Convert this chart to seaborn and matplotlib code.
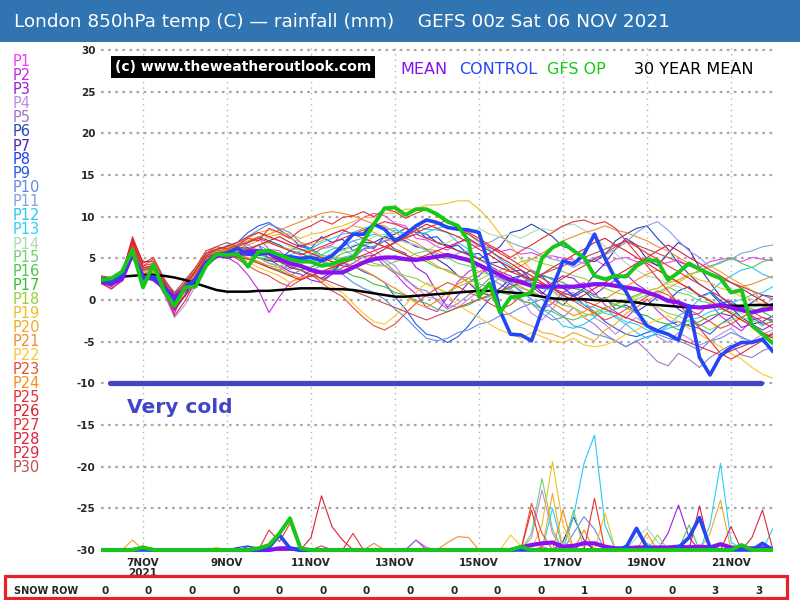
import numpy as np
import pandas as pd
import matplotlib
matplotlib.use('Agg')
import matplotlib.pyplot as plt
import seaborn as sns
from matplotlib.patches import Rectangle

# forecast steps: 06 NOV 00z .. 22 NOV 00z, every 6 hours
hours = list(range(0, 385, 6))

# ensemble members, 850hPa temperature (C)
t_p1 = [2.0, 1.6, 2.9, 6.6, 3.4, 4.1, 1.2, -1.3, 0.6, 3.1, 5.2, 5.9, 5.3,
        5.8, 6.9, 7.4, 6.1, 5.9, 4.8, 4.5, 5.4, 6.2, 6.6, 8.1, 9.0, 9.9,
        10.4, 10.1, 9.2, 8.9, 7.4, 7.2, 6.4, 6.0, 6.9, 7.3, 6.4, 6.3, 5.8,
        6.1, 5.5, 5.7, 5.2, 5.3, 5.0, 4.8, 4.4, 4.9, 4.1, 4.9, 5.1, 4.6,
        4.6, 4.2, 4.5, 4.8, 4.1, 3.9, 4.6, 4.9, 5.0, 4.6, 5.1, 4.9, 4.7]
t_p2 = [2.2, 1.4, 2.3, 5.7, 2.5, 3.1, 0.8, -1.6, 1.3, 3.5, 5.3, 5.9, 5.1,
        4.4, 3.0, 1.2, -1.5, 0.4, 2.1, 2.7, 3.6, 2.4, 3.1, 3.9, 4.4, 5.2,
        5.4, 4.1, 3.2, 1.8, 0.7, -0.9, -1.4, 0.3, 2.2, 3.4, 4.1, 3.0, 2.7,
        1.9, 1.1, 0.1, -1.1, -0.4, 0.9, 1.6, 2.1, 0.9, -0.6, -1.4, -2.2, -0.9,
        0.1, -1.3, -2.4, -3.1, -1.9, -1.6, -0.4, -1.9, -2.9, -3.7, -2.4, -2.1, -2.4]
t_p3 = [2.5, 2.3, 2.7, 6.1, 3.1, 3.4, 1.9, 0.3, 0.9, 2.4, 4.9, 5.4, 6.1,
        5.1, 5.9, 6.6, 4.9, 4.1, 3.4, 3.1, 2.4, 2.1, 3.1, 4.6, 5.4, 6.1,
        6.4, 7.1, 6.1, 5.6, 3.9, 3.1, 0.9, -0.9, 0.6, 2.1, 2.9, 4.1, 3.4,
        2.9, 1.9, 1.6, 0.7, 2.1, 2.9, 2.6, 1.4, 0.6, 1.6, 2.4, 3.1, 1.9,
        1.1, 0.4, 0.1, -1.1, -1.9, -3.1, -2.4, -1.6, -1.9, -3.3, -2.9, -3.6, -2.9]
t_p4 = [2.0, 1.5, 2.2, 5.4, 2.4, 2.9, 0.7, -2.1, -0.6, 1.7, 4.4, 5.1, 5.3,
        5.6, 4.9, 4.6, 3.9, 3.6, 4.3, 4.9, 4.4, 4.1, 5.6, 6.4, 7.1, 6.4,
        6.1, 4.9, 4.1, 2.4, 1.6, 0.4, 0.1, -0.6, -0.9, 0.1, 1.1, 1.9, 2.6,
        1.4, 0.1, -1.6, -2.4, -1.1, 0.6, 0.9, 0.1, -2.1, -2.9, -4.1, -2.9, -2.1,
        -3.1, -4.4, -5.1, -3.9, -4.6, -5.4, -4.9, -4.1, -3.4, -4.6, -4.9, -4.1, -3.6]
t_p5 = [2.4, 2.0, 2.6, 6.0, 3.2, 3.0, 1.5, -0.5, 0.4, 2.1, 3.9, 5.1, 5.4,
        6.1, 5.4, 5.1, 4.4, 4.1, 3.7, 4.3, 3.4, 3.1, 3.7, 4.3, 4.9, 6.1,
        5.4, 4.6, 3.4, 2.6, 1.4, 1.1, -0.1, -1.1, -0.4, 0.6, 1.4, 2.6, 1.9,
        1.1, -0.1, -0.4, -1.6, -2.4, -2.1, -0.9, -2.1, -2.9, -4.1, -4.9, -5.6, -4.9,
        -6.1, -7.4, -7.9, -6.4, -7.1, -8.1, -6.9, -6.1, -5.4, -6.6, -6.9, -6.1, -5.6]
t_p6 = [2.6, 2.3, 3.0, 6.8, 3.5, 4.2, 2.2, 0.5, 1.8, 3.2, 5.0, 5.8, 6.2,
        6.6, 6.9, 7.6, 7.1, 6.6, 5.9, 5.6, 5.1, 5.1, 5.4, 6.1, 6.4, 6.9,
        6.9, 7.6, 7.9, 8.6, 8.1, 7.9, 6.9, 6.6, 5.9, 5.6, 4.9, 5.6, 6.4,
        8.1, 8.4, 9.1, 8.4, 7.6, 6.4, 6.1, 4.9, 4.6, 5.4, 7.1, 7.9, 8.6,
        8.9, 7.4, 6.1, 4.4, 3.1, 1.9, 1.1, -0.1, -0.9, -2.1, -2.9, -2.6, -1.9]
t_p7 = [2.2, 1.9, 2.5, 6.2, 2.8, 3.2, 1.0, -1.2, 0.5, 2.5, 4.8, 5.3, 5.0,
        5.3, 5.4, 5.1, 4.7, 4.6, 3.9, 3.6, 2.9, 2.6, 3.4, 4.6, 5.4, 6.1,
        6.4, 7.1, 7.4, 7.1, 6.4, 6.1, 4.9, 4.1, 2.9, 2.1, 0.9, 0.6, 1.4,
        2.6, 2.9, 2.1, 0.9, 0.1, -0.6, 0.6, 1.4, 3.1, 4.4, 6.1, 7.4, 6.6,
        4.9, 4.1, 5.6, 6.9, 6.1, 3.9, 2.1, 0.4, -0.6, -0.9, -1.6, -0.9, -0.4]
t_p8 = [2.0, 1.7, 2.7, 6.4, 3.0, 3.6, 1.6, -0.8, 1.0, 2.8, 4.6, 5.4, 5.8,
        6.1, 6.3, 5.4, 5.6, 4.9, 5.9, 6.6, 6.2, 7.6, 6.9, 7.3, 5.9, 6.6,
        6.2, 7.6, 7.1, 8.1, 8.6, 7.4, 7.6, 6.3, 6.6, 5.4, 5.6, 4.4, 4.6,
        3.4, 3.6, 2.4, 2.9, 1.4, 1.6, 0.4, 1.1, -0.1, 0.3, -1.1, -0.6, -1.4,
        -0.6, 0.4, -0.1, 1.1, 1.6, 0.4, 0.9, -0.4, -0.1, -1.1, -0.3, 0.6, 0.4]
t_p9 = [2.8, 2.5, 3.2, 7.1, 3.8, 4.0, 2.5, 0.8, 2.0, 3.5, 5.2, 6.0, 6.5,
        6.9, 8.1, 8.9, 9.3, 8.4, 7.6, 6.4, 6.1, 5.4, 5.1, 4.4, 4.1, 3.4,
        2.9, 2.1, 0.4, -1.1, -2.9, -4.1, -4.4, -5.1, -4.4, -3.1, -1.4, 0.1, 0.9,
        2.1, 2.9, 3.6, 2.9, 2.6, 1.4, 0.6, -0.6, -1.4, -2.6, -3.4, -4.1, -4.4,
        -3.9, -3.6, -2.9, -2.6, -3.1, -3.4, -4.1, -2.9, -2.1, -0.9, -2.1, -2.9, -2.6]
t_p10 = [2.3, 2.1, 2.8, 6.3, 3.2, 3.4, 1.4, -0.3, 1.2, 2.6, 4.4, 5.2, 5.6,
         6.4, 7.6, 8.4, 9.1, 8.6, 8.1, 6.9, 6.1, 4.9, 4.1, 3.1, 2.1, 1.4,
         0.9, 0.1, -1.1, -2.1, -3.4, -4.6, -4.9, -4.6, -3.9, -3.6, -2.9, -2.6, -1.9,
         -1.6, -0.9, -0.4, 0.1, -1.1, -1.9, -3.1, -3.4, -4.1, -4.4, -4.9, -5.6, -4.9,
         -4.4, -4.1, -4.6, -4.9, -5.4, -6.1, -4.9, -4.6, -3.9, -4.4, -5.1, -4.6, -3.9]
t_p11 = [2.5, 2.2, 2.9, 6.6, 3.4, 3.7, 1.7, 0.0, 1.4, 3.0, 5.0, 5.6, 5.9,
         6.1, 6.6, 5.9, 5.6, 4.9, 4.6, 3.9, 3.6, 4.1, 4.4, 5.1, 5.4, 6.1,
         6.4, 7.1, 7.4, 6.9, 6.6, 5.9, 5.6, 4.9, 5.6, 5.9, 6.6, 6.9, 7.6,
         6.9, 6.4, 6.1, 5.4, 4.9, 4.6, 3.9, 4.6, 5.1, 5.4, 6.1, 6.9, 8.1,
         8.9, 9.4, 8.4, 7.1, 5.9, 5.1, 3.9, 4.6, 4.9, 5.6, 5.9, 6.4, 6.6]
t_p12 = [2.2, 2.0, 2.5, 6.0, 3.0, 3.3, 1.3, -0.5, 1.5, 3.0, 4.8, 5.3, 5.6,
         5.9, 6.1, 6.6, 5.9, 5.6, 4.9, 4.6, 5.1, 5.4, 6.1, 6.4, 7.1, 7.4,
         7.9, 7.5, 8.4, 8.0, 8.9, 8.5, 8.4, 8.1, 6.9, 6.1, 4.9, 4.1, 2.9,
         2.1, 0.9, 0.1, -1.1, -1.9, -3.1, -3.4, -2.9, -2.1, -0.9, -2.1, -2.9, -3.9,
         -4.6, -3.9, -3.1, -1.9, -1.1, 0.1, 0.9, 2.1, 2.9, 3.6, 3.9, 3.1, 2.6]
t_p13 = [2.6, 2.4, 3.0, 6.7, 3.6, 3.9, 2.0, 0.3, 1.6, 3.1, 5.0, 5.7, 6.0,
         6.4, 5.9, 5.4, 5.1, 4.9, 5.4, 5.9, 6.1, 6.9, 7.4, 7.9, 8.1, 8.6,
         8.9, 8.4, 8.6, 7.6, 7.9, 8.1, 8.6, 8.9, 8.4, 7.9, 6.9, 6.1, 4.9,
         4.1, 2.9, 2.1, 1.4, 1.1, 0.4, 0.1, -0.6, -0.9, -1.6, -1.9, -2.6, -2.9,
         -3.6, -3.9, -3.4, -3.1, -2.4, -2.1, -1.4, -1.1, -0.4, 0.1, 0.6, 0.9, 1.6]
t_p14 = [2.1, 1.8, 2.4, 5.8, 2.7, 3.1, 1.1, -0.9, 0.9, 2.7, 4.7, 5.4, 5.9,
         6.6, 7.4, 8.1, 7.4, 7.1, 6.4, 6.1, 5.4, 5.1, 5.6, 5.9, 6.6, 6.9,
         7.6, 7.9, 7.6, 6.9, 6.6, 5.9, 6.6, 6.9, 7.6, 7.9, 8.6, 7.9, 7.6,
         7.9, 7.4, 8.1, 8.6, 8.3, 8.9, 9.1, 8.4, 7.6, 6.4, 5.6, 4.4, 3.6,
         2.9, 2.6, 1.9, 1.6, 0.9, 0.6, 0.1, -0.6, -0.9, -1.6, -0.9, -0.6, 0.1]
t_p15 = [2.4, 2.1, 2.7, 6.1, 3.1, 3.5, 1.5, -0.6, 1.1, 2.9, 4.9, 5.5, 5.8,
         6.1, 5.4, 5.1, 4.4, 4.1, 4.4, 5.1, 5.4, 6.1, 6.4, 6.1, 5.4, 5.1,
         4.4, 4.1, 4.6, 4.9, 5.6, 5.9, 5.4, 5.1, 4.4, 4.1, 3.4, 3.1, 2.4,
         2.1, 1.4, 1.1, 0.4, 0.1, -0.6, -0.9, -1.6, -1.9, -1.4, -1.1, -0.4, 0.1,
         0.6, 0.9, 1.6, 0.9, 0.6, -0.1, -0.4, -1.1, -1.4, -2.1, -2.4, -3.1, -2.4]
t_p16 = [2.7, 2.4, 3.1, 6.5, 3.4, 3.8, 1.9, 0.2, 1.5, 3.1, 5.1, 5.6, 6.0,
         5.9, 5.4, 5.1, 4.9, 4.9, 4.4, 4.1, 3.9, 4.6, 4.9, 5.6, 5.9, 6.6,
         6.9, 6.4, 6.1, 5.4, 4.9, 4.6, 3.9, 3.6, 2.9, 2.6, 1.9, 1.6, 0.9,
         0.6, -0.1, -0.4, -1.1, -1.4, -2.1, -2.4, -1.9, -1.6, -0.9, -0.6, 0.1, 0.6,
         1.1, 1.4, 2.1, 2.4, 3.1, 3.4, 4.1, 4.4, 5.1, 4.4, 3.9, 4.6, 4.9]
t_p17 = [2.3, 2.0, 2.6, 5.9, 2.9, 3.3, 1.3, -0.7, 1.0, 2.7, 4.6, 5.2, 5.4,
         5.6, 4.9, 4.6, 3.9, 3.6, 2.9, 3.6, 3.9, 4.6, 3.9, 3.6, 2.9, 2.6,
         1.9, 1.6, 0.9, 0.6, -0.1, -0.4, -1.1, -1.4, -0.9, -0.6, 0.1, 0.4, 1.1,
         1.4, 2.1, 2.4, 3.1, 2.4, 2.1, 1.4, 1.1, 0.4, 0.1, -0.6, -0.9, -1.6,
         -1.9, -2.6, -2.9, -3.6, -2.9, -2.6, -1.9, -1.6, -0.9, -0.6, -1.1, -1.4, -2.1]
t_p18 = [2.5, 2.2, 2.8, 6.3, 3.2, 3.6, 1.6, -0.3, 1.3, 3.0, 4.9, 5.5, 5.7,
         5.9, 6.1, 6.6, 6.9, 6.4, 6.1, 6.1, 5.9, 5.4, 5.1, 5.1, 4.9, 4.4,
         4.1, 4.1, 3.4, 2.9, 2.6, 1.9, 1.4, 0.9, 1.6, 2.1, 2.4, 3.1, 3.6,
         3.9, 4.6, 4.9, 4.4, 4.1, 3.4, 2.9, 2.6, 1.9, 1.4, 0.9, 0.6, -0.1,
         -0.6, -0.9, -1.6, -1.9, -2.6, -2.9, -3.6, -2.9, -2.4, -2.1, -1.4, -0.9, -0.6]
t_p19 = [2.2, 1.9, 2.5, 6.4, 3.0, 3.4, 1.4, -0.4, 1.2, 2.9, 4.8, 5.6, 6.2,
         6.9, 7.4, 8.1, 8.4, 8.1, 7.9, 7.4, 7.9, 8.1, 8.6, 8.9, 9.4, 9.9,
         9.9, 10.4, 10.4, 10.9, 10.9, 11.4, 11.4, 11.6, 11.9, 11.9, 10.9, 9.6, 7.9,
         6.6, 4.9, 3.6, 1.9, 1.1, -0.1, -0.9, -2.1, -1.4, -1.1, -0.4, 0.1, 0.4,
         1.1, 1.4, 2.1, 2.4, 3.1, 2.4, 2.1, 1.4, 1.1, 0.4, 0.1, -0.6, -0.9]
t_p20 = [2.3, 2.0, 2.6, 6.9, 3.3, 3.9, 1.7, -0.2, 1.4, 3.2, 5.0, 5.8, 6.4,
         5.9, 6.6, 7.1, 7.6, 7.9, 7.4, 6.9, 6.6, 7.1, 7.9, 8.4, 8.9, 8.6,
         8.1, 7.4, 6.9, 6.1, 5.4, 4.9, 4.1, 3.4, 2.9, 2.1, 1.4, 0.6, -0.9,
         -1.9, -2.6, -3.1, -3.9, -4.1, -4.6, -3.9, -4.4, -4.9, -3.6, -2.9, -1.6, -0.9,
         -0.1, 0.6, 1.4, 2.1, 2.9, 3.6, 4.1, 3.4, 2.6, 1.9, 1.1, -0.1, -0.9]
t_p21 = [2.4, 2.1, 2.7, 6.3, 3.1, 3.6, 1.6, -0.4, 1.3, 2.9, 4.9, 5.6, 6.1,
         6.6, 7.1, 7.6, 7.9, 8.4, 8.9, 9.4, 9.9, 10.4, 10.6, 10.4, 10.1, 9.6,
         9.1, 8.9, 8.1, 7.4, 6.9, 6.1, 5.9, 5.4, 4.9, 4.6, 4.1, 3.6, 3.1,
         3.6, 4.1, 4.9, 5.6, 6.4, 7.1, 7.6, 8.1, 8.4, 8.9, 8.4, 8.1, 7.6,
         7.1, 6.4, 5.9, 5.1, 4.4, 3.6, 3.1, 2.6, 2.1, 1.6, 1.9, 2.4, 2.9]
t_p22 = [2.1, 1.8, 2.4, 7.4, 3.6, 3.9, 1.4, -0.9, 1.0, 2.6, 4.4, 5.1, 5.4,
         5.1, 4.6, 3.9, 3.4, 2.9, 2.1, 2.6, 3.1, 2.4, 1.6, 0.9, -0.4, -1.6,
         -2.6, -2.9, -1.9, -0.6, 0.9, 2.1, 1.4, 0.6, -0.6, -1.4, -2.1, -2.9, -3.6,
         -4.1, -4.6, -3.9, -4.4, -4.9, -5.1, -4.6, -5.4, -5.6, -5.4, -4.9, -4.1, -3.6,
         -2.9, -2.4, -1.9, -2.6, -3.4, -4.1, -4.9, -5.6, -6.4, -7.1, -8.1, -8.9, -9.4]
t_p23 = [2.6, 2.2, 3.1, 7.1, 4.1, 4.9, 2.4, 0.4, 1.9, 3.6, 5.4, 6.1, 5.6,
         4.9, 4.1, 3.4, 2.9, 2.1, 1.6, 2.4, 3.1, 2.1, 1.1, 0.4, -0.9, -2.1,
         -3.1, -3.6, -2.9, -1.6, -0.4, 0.6, 1.4, 2.1, 1.6, 0.9, 0.4, -0.4, -1.1,
         -0.6, 0.4, 1.1, 1.9, 1.4, 0.6, -0.1, -0.9, -1.6, -2.4, -1.9, -1.1, -0.4,
         0.4, 1.1, 0.6, -0.4, -1.1, -1.9, -2.6, -3.4, -2.9, -2.1, -1.4, -2.1, -2.6]
t_p24 = [2.3, 1.9, 2.9, 6.6, 3.4, 4.4, 1.9, -0.1, 1.6, 3.3, 5.1, 5.9, 5.6,
         5.4, 5.1, 4.6, 4.1, 3.9, 3.1, 2.6, 2.9, 3.4, 3.9, 4.6, 4.1, 3.6,
         2.9, 2.1, 1.4, 0.6, -0.4, -0.9, -0.1, 0.9, 1.9, 2.6, 3.4, 3.9, 3.1,
         2.4, 1.6, 0.9, 0.4, -0.4, -1.1, -1.9, -1.4, -0.6, 0.1, 0.9, 1.6, 2.4,
         3.1, 3.6, 2.9, 2.1, 1.4, 0.6, -0.1, -0.9, -1.6, -2.4, -3.1, -3.9, -4.4]
t_p25 = [2.5, 2.1, 2.9, 7.6, 4.4, 5.1, 2.6, 0.6, 2.1, 3.9, 5.9, 6.4, 6.1,
         6.6, 7.4, 7.1, 8.6, 8.1, 7.4, 8.4, 8.9, 9.6, 9.1, 9.9, 10.1, 10.6,
         10.0, 10.9, 10.6, 9.8, 10.4, 10.9, 10.1, 9.4, 8.6, 7.9, 7.1, 6.4, 5.6,
         4.9, 4.1, 3.4, 2.6, 1.9, 2.6, 3.4, 4.1, 4.9, 5.6, 6.4, 7.1, 6.4,
         5.6, 4.9, 4.1, 3.4, 2.6, 1.9, 1.1, 0.4, -0.4, -1.1, -1.9, -2.6, -3.4]
t_p26 = [2.7, 2.4, 3.3, 7.3, 4.6, 4.6, 2.1, -0.1, 1.6, 3.4, 5.6, 6.1, 6.4,
         6.9, 7.6, 8.1, 7.6, 7.1, 6.6, 6.1, 5.6, 5.1, 4.6, 4.1, 3.9, 4.6,
         5.4, 6.1, 6.9, 7.6, 8.4, 9.1, 8.6, 8.1, 7.6, 6.9, 6.1, 5.4, 4.6,
         3.9, 3.1, 2.4, 3.1, 3.9, 4.6, 5.4, 6.1, 6.9, 7.4, 6.6, 5.9, 5.1,
         4.4, 3.6, 2.9, 2.1, 1.4, 0.6, -0.1, -0.9, -1.6, -2.4, -3.1, -3.9, -4.6]
t_p27 = [2.4, 2.6, 3.1, 7.0, 4.1, 4.4, 1.9, -0.6, 1.1, 2.6, 4.6, 5.4, 5.9,
         6.4, 6.9, 7.4, 6.9, 6.4, 5.9, 5.4, 5.9, 6.4, 6.9, 7.4, 7.9, 8.4,
         8.9, 9.4, 9.1, 8.6, 8.1, 8.6, 9.1, 9.6, 8.9, 8.1, 7.4, 6.6, 5.9,
         5.1, 5.9, 6.6, 7.4, 8.1, 8.9, 9.4, 9.6, 9.1, 9.4, 8.6, 7.1, 5.6,
         4.1, 2.6, 1.1, -0.4, -1.9, -3.4, -4.9, -6.4, -7.1, -6.4, -5.6, -4.9, -4.1]
t_p28 = [2.2, 1.7, 2.7, 6.8, 3.9, 4.1, 1.6, -1.1, 0.6, 2.9, 5.1, 5.6, 5.1,
         5.6, 6.1, 6.6, 7.1, 7.6, 6.9, 6.4, 6.9, 7.4, 7.9, 8.4, 7.9, 7.4,
         6.9, 6.4, 5.9, 5.4, 4.9, 5.4, 5.9, 6.4, 6.9, 7.4, 6.6, 5.9, 5.1,
         4.4, 3.6, 2.9, 2.1, 1.4, 0.6, -0.1, 0.6, 1.4, 2.1, 2.9, 3.6, 4.4,
         5.1, 5.9, 6.6, 5.9, 5.1, 4.4, 3.6, 2.9, 2.1, 1.4, 0.6, -0.1, -0.9]
t_p29 = [2.0, 1.3, 2.4, 7.2, 3.6, 3.9, 1.1, -1.9, -0.1, 2.2, 4.6, 5.2, 5.4,
         5.1, 4.9, 4.4, 3.9, 3.4, 2.9, 2.4, 2.9, 3.4, 3.9, 4.4, 4.9, 5.4,
         5.9, 6.4, 6.9, 7.4, 7.9, 7.4, 6.9, 6.4, 5.9, 5.4, 4.9, 4.4, 3.9,
         3.4, 2.9, 2.4, 1.9, 1.4, 0.9, 0.4, -0.1, -0.6, -1.1, -1.6, -2.1, -2.6,
         -3.1, -3.6, -4.1, -4.6, -5.1, -5.6, -6.1, -6.6, -6.1, -5.6, -5.1, -4.6, -4.1]
t_p30 = [2.9, 2.7, 3.4, 6.4, 3.6, 3.9, 2.4, 0.9, 2.4, 3.9, 5.6, 6.4, 6.9,
         6.4, 6.1, 5.6, 5.1, 4.6, 4.1, 3.6, 3.1, 2.6, 2.1, 1.6, 1.1, 0.6,
         0.1, -0.4, -0.9, -1.4, -1.9, -2.4, -1.9, -1.4, -0.9, -0.4, 0.1, 0.6, 1.1,
         1.6, 2.1, 2.6, 3.1, 3.6, 4.1, 4.6, 5.1, 5.6, 6.1, 6.6, 7.1, 6.6,
         6.1, 5.6, 5.1, 4.6, 4.1, 3.6, 3.1, 2.6, 2.1, 1.6, 1.1, 0.6, 0.1]

# highlighted series (C)
t_mean = [2.2, 2.0, 2.5, 5.5, 2.8, 2.5, 1.5, 0.3, 1.3, 2.5, 4.3, 5.3, 5.4,
          5.5, 5.8, 5.9, 5.6, 4.9, 4.4, 4.1, 3.6, 3.3, 3.3, 3.3, 3.9, 4.5,
          4.9, 5.1, 5.1, 4.9, 4.8, 5.0, 5.2, 5.4, 5.1, 4.8, 4.2, 3.6, 3.0,
          2.4, 2.2, 1.7, 1.6, 1.6, 1.6, 1.6, 1.7, 1.9, 1.9, 1.7, 1.5, 1.3,
          0.9, 0.5, -0.1, -0.3, -0.8, -0.9, -0.8, -0.6, -0.9, -1.2, -1.5, -1.2, -1.0]
t_control = [2.3, 2.2, 3.0, 5.8, 2.5, 2.8, 1.5, -0.3, 1.5, 2.5, 4.5, 5.5, 5.6,
             6.2, 5.5, 5.5, 5.7, 5.3, 5.2, 5.0, 5.1, 4.7, 5.3, 6.5, 7.9, 7.9,
             9.1, 8.5, 7.1, 7.9, 8.9, 9.6, 9.3, 8.7, 8.5, 8.4, 8.1, 3.9, -1.3,
             -4.1, -4.2, -4.9, -1.3, 1.5, 4.7, 4.3, 5.5, 7.9, 5.0, 2.5, 1.0, -1.3,
             -3.1, -3.7, -4.1, -4.8, -0.7, -6.9, -9.0, -6.7, -5.7, -5.1, -5.1, -4.7, -6.2]
t_op = [2.4, 2.6, 3.4, 6.0, 1.5, 4.3, 1.1, -0.7, 1.5, 1.6, 4.1, 5.5, 5.4,
        5.5, 4.0, 5.8, 5.9, 5.4, 4.9, 4.6, 4.6, 4.1, 4.3, 4.8, 5.0, 7.1,
        9.1, 11.0, 11.1, 10.2, 10.9, 10.9, 10.3, 9.4, 8.9, 7.1, 0.4, 2.0, -1.5,
        0.3, 0.5, 0.9, 5.0, 6.3, 6.9, 5.9, 5.1, 2.9, 2.5, 2.9, 2.8, 4.1,
        4.8, 4.7, 2.4, 3.3, 4.4, 3.7, 3.1, 2.6, 0.9, 1.2, -3.1, -4.1, -5.2]
t_30yr = [2.5, 2.6, 2.8, 2.9, 3.0, 3.0, 2.9, 2.7, 2.4, 2.0, 1.6, 1.2, 1.0,
          1.0, 1.0, 1.1, 1.1, 1.2, 1.3, 1.4, 1.4, 1.4, 1.3, 1.3, 1.2, 1.0,
          0.8, 0.6, 0.4, 0.4, 0.5, 0.6, 0.7, 0.8, 0.9, 1.0, 1.1, 1.1, 1.0,
          0.9, 0.8, 0.6, 0.4, 0.2, 0.1, 0.1, 0.1, 0.0, -0.1, -0.1, -0.2, -0.3,
          -0.5, -0.6, -0.7, -0.8, -0.9, -0.9, -0.8, -0.7, -0.7, -0.7, -0.6, -0.6, -0.6]

# rainfall (mm), {6-hour step: amount}, all other steps dry
r_p1 = {4: 0.3, 42: 0.4, 56: 0.6}
r_p2 = {30: 1.2, 44: 0.5}
r_p3 = {46: 1.0, 54: 2.0, 55: 5.4, 56: 1.5}
r_p4 = {41: 1.5, 42: 7.2, 43: 2.0}
r_p5 = {30: 1.2, 31: 0.3}
r_p6 = {14: 0.4, 15: 0.3}
r_p7 = {44: 1.0, 45: 4.0, 46: 1.2}
r_p8 = {13: 0.3, 14: 0.5}
r_p9 = {4: 0.3, 50: 0.6}
r_p10 = {45: 2.0, 46: 4.0, 47: 2.5}
r_p11 = {4: 0.4, 52: 0.8}
r_p12 = {45: 4.0, 46: 10.4, 47: 13.8, 48: 3.0}
r_p13 = {43: 5.0, 58: 3.0, 59: 10.4, 60: 1.0, 64: 2.6}
r_p14 = {51: 1.5, 52: 2.6, 53: 1.0}
r_p15 = {41: 2.0, 42: 8.6, 43: 2.5, 45: 4.8}
r_p16 = {56: 3.0}
r_p17 = {4: 0.3, 40: 0.5}
r_p18 = {53: 1.8}
r_p19 = {42: 3.0, 43: 10.6, 44: 3.0, 48: 4.4}
r_p20 = {3: 1.2, 43: 6.8, 58: 2.0, 59: 6.0}
r_p21 = {26: 0.8, 33: 0.9, 34: 1.6, 35: 1.5}
r_p22 = {11: 0.3, 39: 1.8, 40: 0.5}
r_p23 = {41: 5.6, 42: 2.0}
r_p24 = {44: 4.8, 46: 2.4, 52: 2.0}
r_p25 = {16: 2.4, 17: 1.0, 18: 3.2}
r_p26 = {20: 1.5, 21: 6.5, 22: 2.8, 23: 1.2}
r_p27 = {24: 2.0, 41: 4.8, 47: 6.2}
r_p28 = {57: 5.3, 60: 2.8}
r_p29 = {62: 1.5, 63: 4.8}
r_p30 = {4: 0.5, 21: 0.5}
r_mean = {4: 0.2, 17: 0.2, 18: 0.2, 40: 0.3, 41: 0.6, 42: 0.8, 43: 0.9, 44: 0.4,
          45: 0.5, 46: 0.8, 47: 0.8, 48: 0.4, 49: 0.2, 50: 0.2, 51: 0.3, 52: 0.3,
          53: 0.3, 54: 0.3, 55: 0.4, 56: 0.3, 57: 0.4, 58: 0.3, 59: 0.7, 60: 0.3,
          61: 0.2, 62: 0.2, 63: 0.2, 64: 0.1}
r_control = {16: 0.3, 17: 1.8, 18: 0.2, 50: 0.3, 51: 2.6, 52: 0.3, 55: 0.3,
             56: 1.5, 57: 3.9, 58: 0.3, 63: 0.8}
r_op = {4: 0.3, 15: 0.2, 16: 0.6, 17: 2.0, 18: 3.8, 19: 0.2, 40: 0.4, 61: 0.6}

snow_row = [0, 0, 0, 0, 0, 0, 0, 0, 0, 0, 0, 1, 0, 0, 3, 3]
day_ticks = [24, 72, 120, 168, 216, 264, 312, 360]
day_labels = ['7NOV\n2021', '9NOV', '11NOV', '13NOV', '15NOV', '17NOV', '19NOV', '21NOV']
rain_base = -30
very_cold = -10
very_cold_span = (5, 377)

member_t = [t_p1, t_p2, t_p3, t_p4, t_p5, t_p6, t_p7, t_p8, t_p9, t_p10,
            t_p11, t_p12, t_p13, t_p14, t_p15, t_p16, t_p17, t_p18, t_p19, t_p20,
            t_p21, t_p22, t_p23, t_p24, t_p25, t_p26, t_p27, t_p28, t_p29, t_p30]
member_r = [r_p1, r_p2, r_p3, r_p4, r_p5, r_p6, r_p7, r_p8, r_p9, r_p10,
            r_p11, r_p12, r_p13, r_p14, r_p15, r_p16, r_p17, r_p18, r_p19, r_p20,
            r_p21, r_p22, r_p23, r_p24, r_p25, r_p26, r_p27, r_p28, r_p29, r_p30]
member_colors = ['#f040f0', '#c828e6', '#9620dc', '#be8ce6', '#a078c8', '#2846b4',
                 '#4628b4', '#1e3cf0', '#285ae6', '#648ce6', '#82a0e6', '#28c8f0',
                 '#28d2fa', '#aadcb4', '#6ed26e', '#50c850', '#3cbe3c', '#96d23c',
                 '#f0be28', '#f0aa28', '#f08c32', '#fac832', '#e65032', '#fa8c14',
                 '#e63232', '#dc1e32', '#e63232', '#dc1e3c', '#dc283c', '#be5050']
names = [f'P{k + 1}' for k in range(30)]


def rain_series(events):
    return [rain_base + events.get(i, 0.0) for i in range(len(hours))]


rows = []
for name, temps, events in zip(names, member_t, member_r):
    rows.append(pd.DataFrame({'hours': hours, 'member': name, 'temp': temps,
                              'rain': rain_series(events)}))
df = pd.concat(rows, ignore_index=True)
key = pd.DataFrame({'hours': hours, 'mean': t_mean, 'control': t_control,
                    'op': t_op, 'clim': t_30yr, 'rain_mean': rain_series(r_mean),
                    'rain_control': rain_series(r_control), 'rain_op': rain_series(r_op)})

sns.set_style('white')
plt.rcParams['font.family'] = ['DejaVu Sans']
plt.rcParams['axes.unicode_minus'] = False

fig = plt.figure(figsize=(8, 6), dpi=100)
ax = fig.add_axes([101 / 800, 45 / 600, 672 / 800, 510 / 600])
palette = dict(zip(names, member_colors))

sns.lineplot(data=df, x='hours', y='temp', hue='member', palette=palette,
             linewidth=0.8, legend=False, estimator=None, ax=ax)
sns.lineplot(data=df, x='hours', y='rain', hue='member', palette=palette,
             linewidth=0.8, legend=False, estimator=None, ax=ax)

ax.hlines(very_cold, *very_cold_span, color='#4046c4', linewidth=3.8, capstyle='round', zorder=3)

sns.lineplot(data=key, x='hours', y='clim', color='black', linewidth=1.8, ax=ax, zorder=4)
for col, colour, lw in [('mean', '#8a10f0', 3.0), ('control', '#2446f4', 2.6), ('op', '#18c818', 2.8)]:
    sns.lineplot(data=key, x='hours', y=col, color=colour, linewidth=lw, ax=ax, zorder=5)
    sns.lineplot(data=key, x='hours', y='rain_' + col, color=colour, linewidth=lw, ax=ax, zorder=5)

ax.set_xlim(0, 384)
ax.set_ylim(-30.6, 30.6)
ax.set_yticks(range(-30, 31, 5))
ax.set_xticks(day_ticks)
ax.set_xticklabels(day_labels, fontsize=7.5, fontweight='bold', linespacing=1.0)
for lbl in ax.get_yticklabels():
    lbl.set_fontweight('bold')
    lbl.set_fontsize(7.5)
ax.tick_params(axis='y', length=3, width=1.5, color='black', pad=1)
ax.tick_params(axis='x', length=0, pad=2)
ax.set_xlabel('')
ax.set_ylabel('')
sns.despine(ax=ax, left=True, bottom=True)
ax.set_axisbelow(True)
ax.yaxis.grid(True, color='#a8a8a8', linestyle=(0, (1.2, 2.0)), linewidth=1.6)
ax.xaxis.grid(True, color='#b4b4b4', linestyle=(0, (1, 3)), linewidth=1.0)

# header bar
fig.patches.append(Rectangle((0, 1 - 42 / 600), 1, 42 / 600, transform=fig.transFigure,
                             facecolor='#3074b2', edgecolor='none', zorder=0))
fig.text(14 / 800, 1 - 22 / 600, 'London 850hPa temp (C) \u2014 rainfall (mm)    GEFS 00z Sat 06 NOV 2021',
         color='white', fontsize=13.3, va='center', ha='left')

# member legend
for k, (name, colour) in enumerate(zip(names, member_colors)):
    fig.text(13 / 800, 1 - (62 + 14 * k) / 600, name, color=colour, fontsize=10.5,
             va='center', ha='left')

# top legend
fig.text(115 / 800, 1 - 67 / 600, '(c) www.theweatheroutlook.com', color='white',
         fontsize=10, fontweight='bold', va='center', ha='left',
         bbox=dict(facecolor='black', edgecolor='none', boxstyle='square,pad=0.3'))
for label, colour, xpx in [('MEAN', '#8a10f0', 400), ('CONTROL', '#2446f4', 459),
                           ('GFS OP', '#18c818', 547), ('30 YEAR MEAN', 'black', 634)]:
    fig.text(xpx / 800, 1 - 69 / 600, label, color=colour, fontsize=11.5, va='center', ha='left')

ax.text(15, -12.9, 'Very cold', color='#4046c4', fontsize=14.5, fontweight='bold',
        va='center', ha='left')

# snow row
fig.patches.append(Rectangle((5 / 800, 2 / 600), 782 / 800, 22 / 600, transform=fig.transFigure,
                             facecolor='none', edgecolor='#e8202a', linewidth=2.3))
fig.text(14 / 800, 1 - 591 / 600, 'SNOW ROW', fontsize=7, fontweight='bold', va='center', ha='left')
for k, val in enumerate(snow_row):
    fig.text((105 + 43.6 * k) / 800, 1 - 591 / 600, str(val), fontsize=7.5, fontweight='bold',
             va='center', ha='center')

fig.savefig('out.png', dpi=100, facecolor='white')
